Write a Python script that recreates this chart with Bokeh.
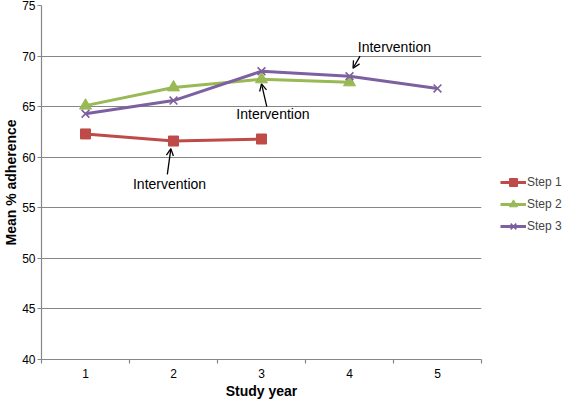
from bokeh.plotting import figure
from bokeh.models import (FixedTicker, Legend, LegendItem, Arrow, OpenHead,
                          ColumnDataSource, Range1d)
from bokeh.core.properties import value
from bokeh.embed import file_html
from bokeh.resources import INLINE

# ---- data ----
years = [1, 2, 3, 4, 5]
year_labels = ["1", "2", "3", "4", "5"]
step1_years = [1, 2, 3]
step1_vals = [62.3, 61.6, 61.8]
step2_years = [1, 2, 3, 4]
step2_vals = [65.1, 66.9, 67.7, 67.4]
step3_years = [1, 2, 3, 4, 5]
step3_vals = [64.3, 65.6, 68.5, 68.0, 66.8]
y_ticks = [40, 45, 50, 55, 60, 65, 70, 75]

# annotations (data units)
note_text = ["Intervention", "Intervention", "Intervention"]
note_x = [1.955, 3.13, 4.51]
note_y = [57.4, 64.3, 70.9]
arrow_x0 = [1.93, 3.06, 4.12]
arrow_y0 = [58.3, 65.0, 70.0]
arrow_x1 = [1.97, 3.0, 4.04]
arrow_y1 = [60.85, 67.25, 68.8]

FONT = "Liberation Sans"
GRID = "#868686"
RED = "#BE4B48"
GREEN = "#98B954"
PURPLE = "#7D60A0"

FW, FH = 440, 354
p = figure(frame_width=FW, frame_height=FH, output_backend="svg",
           toolbar_location=None,
           x_range=Range1d(0.5, 5.5), y_range=Range1d(40, 75),
           min_border_top=5, min_border_left=0, min_border_bottom=0,
           min_border_right=83)
p.outline_line_color = None
p.background_fill_color = "white"
p.border_fill_color = "white"

# axes
p.xaxis.ticker = FixedTicker(ticks=years, minor_ticks=[0.5, 1.5, 2.5, 3.5, 4.5, 5.5])
p.xaxis.major_label_overrides = {y: l for y, l in zip(years, year_labels)}
p.xaxis.major_tick_line_color = None
p.xaxis.major_tick_in = 0
p.xaxis.major_tick_out = 4
p.xaxis.minor_tick_line_color = GRID
p.xaxis.minor_tick_in = 0
p.xaxis.minor_tick_out = 4
p.xaxis.minor_tick_line_width = 1.2
p.yaxis.ticker = FixedTicker(ticks=y_ticks, minor_ticks=[])
p.yaxis.major_tick_in = 0
p.yaxis.major_tick_out = 4
p.yaxis.major_tick_line_color = GRID
for ax in (p.xaxis, p.yaxis):
    ax.axis_line_color = GRID
    ax.axis_line_width = 1.2
    ax.major_label_text_font = FONT
    ax.major_label_text_font_size = "12px"
    ax.major_label_text_color = "#000000"
    ax.axis_label_text_font = FONT
    ax.axis_label_text_font_size = "14px"
    ax.axis_label_text_font_style = "bold"
    ax.axis_label_text_color = "#000000"
p.xaxis.axis_label = "Study year"
p.yaxis.axis_label = "Mean % adherence"
p.xaxis.major_label_standoff = 5
p.xaxis.axis_label_standoff = 2
p.yaxis.major_label_standoff = 2
p.yaxis.axis_label_standoff = 0

p.xgrid.grid_line_color = None
p.ygrid.grid_line_color = GRID
p.ygrid.grid_line_width = 1.2
p.ygrid.ticker = FixedTicker(ticks=y_ticks[1:])

# series
l1 = p.line(step1_years, step1_vals, line_color=RED, line_width=3)
m1 = p.scatter(step1_years, step1_vals, marker="square", size=10,
               fill_color=RED, line_color=RED)
l2 = p.line(step2_years, step2_vals, line_color=GREEN, line_width=3)
m2 = p.scatter(step2_years, step2_vals, marker="triangle", size=12,
               fill_color=GREEN, line_color=GREEN)
l3 = p.line(step3_years, step3_vals, line_color=PURPLE, line_width=3)
m3 = p.scatter(step3_years, step3_vals, marker="x", size=11,
               line_color=PURPLE, line_width=1.6)

# annotations
for xs, ys, xe, ye in zip(arrow_x0, arrow_y0, arrow_x1, arrow_y1):
    p.add_layout(Arrow(end=OpenHead(size=7, line_width=1.3, line_color="black"),
                       x_start=xs, y_start=ys, x_end=xe, y_end=ye,
                       line_width=1.3, line_color="black"))
src = ColumnDataSource(dict(x=note_x, y=note_y, t=note_text))
p.text(x="x", y="y", text="t", source=src, text_font=value(FONT),
       text_font_size="14px", text_align="center", text_baseline="middle",
       text_color="black")

legend = Legend(items=[LegendItem(label="Step 1", renderers=[l1, m1]),
                       LegendItem(label="Step 2", renderers=[l2, m2]),
                       LegendItem(label="Step 3", renderers=[l3, m3])],
                location=(19, 123))
legend.border_line_color = None
legend.background_fill_alpha = 0
legend.label_text_font = FONT
legend.label_text_font_size = "12px"
legend.glyph_width = 26
legend.glyph_height = 20
legend.label_height = 20
legend.spacing = 2
legend.padding = 0
legend.margin = 0
legend.label_standoff = 1
p.add_layout(legend, "right")

open("out.html", "w").write(file_html(p, INLINE))
